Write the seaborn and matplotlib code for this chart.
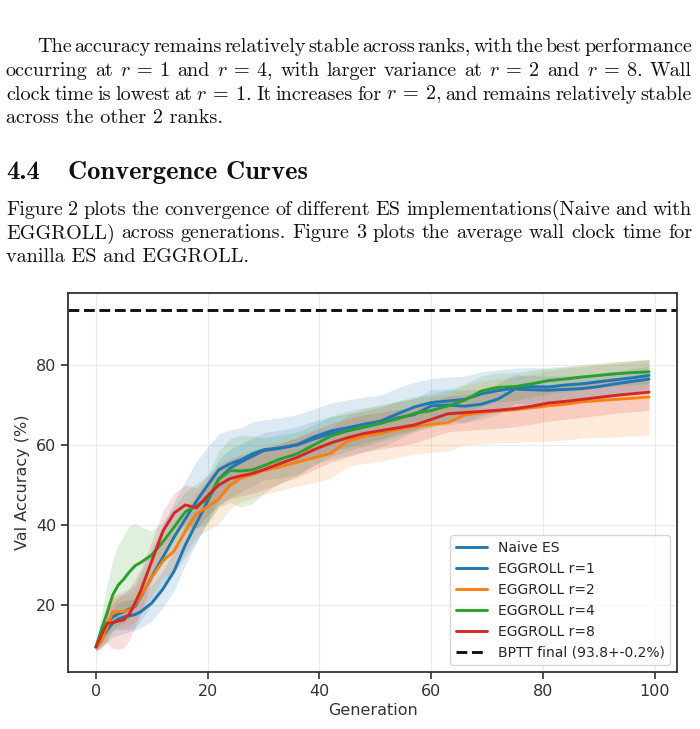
import numpy as np
import pandas as pd
import matplotlib
matplotlib.use("Agg")
import matplotlib.pyplot as plt
import seaborn as sns

gens = [0, 1, 2, 3, 4, 5, 6, 7, 8, 10, 12, 14, 16, 18, 20, 22, 24, 26, 28, 30,
        33, 36, 39, 42, 45, 48, 51, 54, 57, 60, 63, 66, 69, 72, 75, 78, 81, 84,
        87, 90, 93, 96, 99]

# mean validation accuracy (%)
naive_mean = [9.5, 12.5, 15.4, 17.0, 17.8, 18.3, 19.0, 19.6, 22.0, 27.1, 32.0, 37.0, 41.5, 46.0, 50.0,
              53.8, 55.3, 56.3, 57.8, 58.8, 59.3, 60.1, 62.0, 63.5, 64.3, 65.2, 66.0, 67.8, 69.5,
              70.6, 71.0, 71.4, 72.8, 73.6, 74.2, 74.6, 74.5, 75.0, 75.3, 75.8, 76.3, 76.8, 77.4]
r1_mean = [9.5, 11.5, 13.7, 15.5, 16.5, 17.0, 17.3, 17.6, 18.3, 20.5, 24.0, 28.5, 35.0, 40.5, 46.0,
           51.5, 54.2, 55.8, 57.2, 58.6, 59.2, 60.0, 61.5, 62.8, 63.6, 64.5, 65.5, 66.8, 67.6,
           69.8, 70.0, 69.7, 70.2, 71.5, 74.0, 73.8, 73.7, 73.9, 74.1, 74.6, 75.3, 75.9, 76.5]
r2_mean = [9.5, 11.0, 14.5, 18.3, 18.3, 18.4, 18.7, 20.0, 22.2, 27.0, 31.0, 33.5, 38.5, 42.8, 44.6,
           46.5, 50.0, 51.8, 52.6, 53.6, 54.6, 55.7, 56.8, 57.9, 61.0, 62.2, 62.9, 63.9, 64.6,
           65.2, 65.6, 67.5, 68.1, 68.5, 68.8, 69.3, 69.8, 70.2, 70.8, 71.1, 71.4, 71.7, 72.0]
r4_mean = [9.5, 14.0, 18.0, 22.5, 25.0, 26.5, 28.3, 29.8, 30.6, 32.5, 35.8, 39.5, 43.3, 44.8, 46.5,
           51.5, 53.6, 53.5, 53.8, 54.8, 56.5, 57.8, 60.0, 62.2, 63.5, 64.5, 65.5, 66.5, 67.9,
           68.6, 69.8, 71.2, 73.5, 74.4, 74.6, 75.3, 76.1, 76.5, 77.0, 77.4, 77.8, 78.1, 78.3]
r8_mean = [9.5, 12.5, 15.4, 15.6, 16.0, 16.3, 17.8, 20.5, 23.5, 31.0, 38.5, 43.0, 45.0, 44.3, 47.3,
           50.0, 51.6, 52.3, 52.9, 53.8, 55.4, 56.9, 58.8, 60.5, 61.8, 62.9, 63.6, 64.3, 65.0,
           66.4, 67.8, 68.1, 68.4, 68.7, 69.1, 69.7, 70.5, 70.9, 71.4, 71.9, 72.4, 72.8, 73.2]

# half width of the shaded bands
naive_std = [1.0, 2.0, 3.0, 3.5, 4.0, 4.5, 5.0, 5.5, 6.0, 7.0, 8.0, 9.0, 9.5, 10.0, 9.5,
             9.0, 8.5, 8.0, 8.0, 7.5, 7.5, 7.5, 7.0, 7.0, 7.0, 6.8, 6.5, 6.5, 6.2,
             6.0, 6.0, 5.8, 5.5, 5.2, 5.0, 4.8, 4.6, 4.5, 4.3, 4.2, 4.0, 4.0, 4.0]
r1_std = [1.0, 2.0, 3.0, 3.5, 4.0, 4.0, 4.0, 4.0, 4.0, 4.5, 4.5, 5.0, 5.0, 5.0, 5.0,
          5.0, 4.8, 4.5, 4.5, 4.5, 4.5, 4.5, 4.5, 4.3, 4.2, 4.0, 4.0, 4.0, 4.0,
          4.0, 4.0, 4.0, 3.8, 3.8, 3.6, 3.5, 3.5, 3.5, 3.4, 3.3, 3.2, 3.2, 3.2]
r2_std = [1.0, 2.0, 3.0, 3.5, 4.0, 4.0, 4.0, 4.2, 4.5, 4.5, 4.5, 5.0, 5.5, 5.5, 6.0,
          6.0, 6.0, 6.0, 6.0, 6.0, 6.0, 6.0, 6.2, 6.2, 6.5, 6.8, 7.0, 7.0, 7.0,
          7.0, 7.2, 7.5, 7.8, 8.0, 8.2, 8.5, 8.8, 9.0, 9.0, 9.2, 9.4, 9.5, 9.5]
r4_std = [1.0, 4.0, 7.0, 9.0, 10.0, 11.0, 11.5, 10.5, 9.0, 6.0, 5.0, 5.0, 5.0, 5.5, 6.0,
          7.0, 8.0, 9.0, 8.5, 7.0, 6.0, 5.5, 5.0, 5.0, 5.0, 4.8, 4.5, 4.5, 4.2,
          4.0, 4.0, 4.0, 3.8, 3.6, 3.5, 3.4, 3.3, 3.2, 3.1, 3.0, 3.0, 3.0, 3.0]
r8_std = [1.0, 3.0, 5.0, 6.5, 7.0, 7.0, 6.5, 6.0, 5.5, 5.0, 5.0, 5.0, 5.0, 5.0, 5.0,
          5.0, 5.0, 5.0, 5.0, 5.0, 5.0, 5.0, 5.0, 4.8, 4.8, 4.7, 4.6, 4.6, 4.5,
          4.5, 4.5, 4.5, 4.5, 4.5, 4.5, 4.5, 4.5, 4.5, 4.5, 4.5, 4.5, 4.5, 4.5]

labels = ["Naive ES", "EGGROLL r=1", "EGGROLL r=2", "EGGROLL r=4", "EGGROLL r=8"]
colors = ["#1f77b4", "#1f77b4", "#ff7f0e", "#2ca02c", "#d62728"]
bptt_final = 93.8

means = [naive_mean, r1_mean, r2_mean, r4_mean, r8_mean]
stds = [naive_std, r1_std, r2_std, r4_std, r8_std]

# long table for seaborn
rows = []
for lab, m in zip(labels, means):
    for g, v in zip(gens, m):
        rows.append({"Generation": g, "acc": v, "run": lab})
df = pd.DataFrame(rows)

sns.set_style("ticks")
plt.rcParams["mathtext.fontset"] = "cm"

W, H = 700, 729
fig = plt.figure(figsize=(W / 100, H / 100), dpi=100)
renderer = fig.canvas.get_renderer()


def fx(px):
    return px / W


def fy(py):
    return 1 - py / H


def width_of(s, **kw):
    t = fig.text(0, 0, s, **kw)
    w = t.get_window_extent(renderer).width
    t.remove()
    return w


# page text (Computer Modern look)
body = dict(family="cmr10", color="#111111")
fs = 10 * 218 / width_of("across the other 2 ranks.", fontsize=10, **body)
body["fontsize"] = fs


def put_line(s, x0, y, justify=True, x1=692, **kw):
    if not justify:
        fig.text(fx(x0), fy(y), s, va="baseline", **kw)
        return
    words = s.split()
    ws = [width_of(w, **kw) for w in words]
    gap = (x1 - x0 - sum(ws)) / (len(words) - 1)
    x = x0
    for w, wd in zip(words, ws):
        fig.text(fx(x), fy(y), w, va="baseline", **kw)
        x += wd + gap


put_line(r"The accuracy remains relatively stable across ranks, with the best performance", 37, 52.5, **body)
put_line(r"occurring at $r\:=\:1$ and $r\:=\:4$, with larger variance at $r\:=\:2$ and $r\:=\:8$. Wall",
         6, 76, **body)
put_line(r"clock time is lowest at $r\:=\:1$. It increases for $r\:=\:2$, and remains relatively stable",
         6, 99.5, **body)
put_line("across the other 2 ranks.", 6, 123, justify=False, **body)

head = dict(family="cmb10", color="#111111", fontsize=fs * 1.31)
fig.text(fx(6), fy(179), "4.4", va="baseline", **head)
fig.text(fx(68), fy(179), "Convergence Curves", va="baseline", **head)

put_line("Figure 2 plots the convergence of different ES implementations(Naive and with", 6, 215, **body)
put_line("EGGROLL) across generations. Figure 3 plots the average wall clock time for", 6, 238.5, **body)
put_line("vanilla ES and EGGROLL.", 6, 262, justify=False, **body)

# the chart
ax = fig.add_axes([fx(68), fy(672), fx(677) - fx(68), fy(293) - fy(672)])
for lab, col, m, s in zip(labels, colors, means, stds):
    m = np.array(m)
    s = np.array(s)
    ax.fill_between(gens, m - s, m + s, color=col, alpha=0.15, linewidth=0)
sns.lineplot(data=df, x="Generation", y="acc", hue="run", hue_order=labels,
             palette=colors, linewidth=2.1, ax=ax, legend=False)
for lab, col in zip(labels, colors):
    ax.plot([], [], color=col, linewidth=2.1, label=lab)
ax.axhline(bptt_final, color="#111111", linestyle="--", linewidth=2.1,
           label="BPTT final (93.8+-0.2%)")

ax.set_xlim(-5, 104)
ax.set_ylim(3.25, 98)
ax.set_xticks([0, 20, 40, 60, 80, 100])
ax.set_yticks([20, 40, 60, 80])
ax.grid(True, color="#ebebeb", linewidth=0.9)
ax.set_axisbelow(True)
for sp in ax.spines.values():
    sp.set_color("#333333")
    sp.set_linewidth(1.3)
ax.tick_params(labelsize=11.5, colors="#333333", length=5, width=1.2)
ax.set_xlabel("Generation", fontsize=11.5, color="#333333", labelpad=3)
ax.set_ylabel("Val Accuracy (%)", fontsize=11.5, color="#333333")
ax.legend(loc="lower right", fontsize=10, frameon=True, handlelength=2.2)

fig.savefig("out.png", dpi=100)
